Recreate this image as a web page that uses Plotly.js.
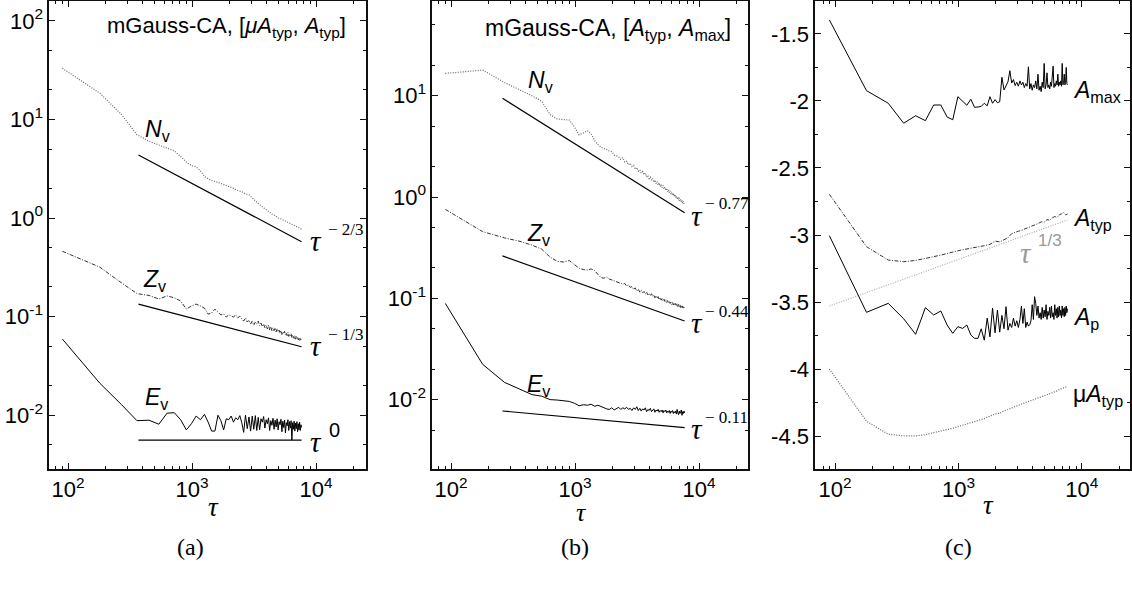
<!DOCTYPE html>
<html>
<head>
<meta charset="utf-8">
<script src="https://cdn.plot.ly/plotly-3.0.1.min.js"></script>
<style>html,body{margin:0;padding:0;background:#fff;}#chart{width:1132px;height:592px;}</style>
</head>
<body>
<div id="chart"></div>
<script>
// ---------- data ----------
const tau = [90,180,270,360,450,540,630,720,810,900,990,1080,1170,1260,1350,1440,1530,1620,1710,1800,1890,1980,2070,2160,2250,2340,2430,2520,2610,2700,2790,2880,2970,3060,3150,3240,3330,3420,3510,3600,3690,3780,3870,3960,4050,4140,4230,4320,4410,4500,4590,4680,4770,4860,4950,5040,5130,5220,5310,5400,5490,5580,5670,5760,5850,5940,6030,6120,6210,6300,6390,6480,6570,6660,6750,6840,6930,7020,7110,7200,7290,7380,7470,7560,7650];
const tauS = [90,180,270,360,450,540,630,720,810,900,990,1080,1170,1260,1350,1440,1620,1800,1980,2160,2340,2520,2700,2880,3060,3240,3420,3600,3870,4140,4410,4680,4950,5220,5490,5760,6030,6300,6570,6840,7110,7380,7650];

// panel (a): mGauss-CA, [muA_typ, A_typ]
const a_Nv = [33,18.5,11.2,7.0,6.0,5.5,5.2,4.8,4.2,3.7,3.4,3.3,3.0,2.65,2.5,2.4,2.3,2.2,2.1,2.0,1.9,1.85,1.76,1.72,1.6,1.48,1.4,1.33,1.24,1.16,1.1,1.06,1.0,0.98,0.95,0.93,0.9,0.88,0.86,0.84,0.81,0.79,0.77];
const a_Zv = [0.46,0.318,0.22,0.171,0.164,0.151,0.162,0.155,0.144,0.119,0.128,0.134,0.128,0.122,0.106,0.109,0.119,0.111,0.104,0.106,0.099,0.104,0.101,0.099,0.104,0.097,0.101,0.095,0.090,0.097,0.088,0.092,0.084,0.090,0.082,0.088,0.084,0.090,0.081,0.086,0.079,0.084,0.077,0.082,0.075,0.082,0.073,0.079,0.072,0.077,0.072,0.077,0.070,0.075,0.070,0.073,0.068,0.072,0.066,0.070,0.067,0.071,0.065,0.068,0.064,0.069,0.063,0.066,0.064,0.067,0.061,0.065,0.062,0.060,0.064,0.059,0.063,0.060,0.062,0.058,0.061,0.057,0.060,0.058,0.059];
const a_Ev = [0.0593,0.0212,0.0128,0.0088,0.0089,0.0081,0.0105,0.0106,0.0090,0.0071,0.0082,0.0098,0.0090,0.0102,0.0085,0.0069,0.0069,0.0100,0.0088,0.0071,0.0092,
  0.0090,0.0098,0.0085,0.0094,0.0090,0.0099,0.0084,0.0067,0.0100,0.0073,
  0.0096,0.0069,0.0098,0.0072,0.0099,0.0070,0.0095,0.0071,0.0092,0.0085,
  0.0097,0.0074,0.0090,0.0082,0.0094,0.0070,0.0088,0.0079,0.0093,0.0072,
  0.0089,0.0076,0.0092,0.0071,0.0086,0.0080,0.0091,0.0068,0.0087,0.0075,
  0.0089,0.0066,0.0084,0.0078,0.0090,0.0070,0.0086,0.0074,0.0088,0.0056,
  0.0084,0.0072,0.0087,0.0069,0.0083,0.0073,0.0086,0.0068,0.0082,0.0071,
  0.0085,0.0070,0.0080,0.0075];
const a_refTau = [370,7650];
const a_refN = [4.35,0.575];
const a_refZ = [0.134,0.0495];
const a_refE = [0.0056,0.0056];

// panel (b): mGauss-CA, [A_typ, A_max]
const b_Nv = [16.6,17.9,13.5,11.4,10.0,8.8,6.5,5.9,5.8,5.75,4.9,4.1,4.3,4.5,4.2,3.6,3.3,3.1,3.0,2.95,2.85,2.8,2.6,2.55,2.5,2.35,2.45,2.2,2.25,2.08,2.15,2.0,2.05,1.88,1.95,1.8,1.86,1.72,1.78,1.66,1.72,1.58,1.64,1.52,1.57,1.46,1.52,1.40,1.47,1.36,1.42,1.31,1.38,1.27,1.33,1.24,1.30,1.20,1.25,1.16,1.22,1.13,1.18,1.10,1.15,1.07,1.12,1.04,1.09,1.01,1.06,0.99,1.03,0.96,1.00,0.93,0.98,0.91,0.95,0.89,0.93,0.87,0.91,0.86,0.88];
const b_Zv = [0.755,0.455,0.395,0.365,0.335,0.305,0.255,0.232,0.228,0.236,0.215,0.198,0.192,0.190,0.195,0.188,0.172,0.160,0.158,0.162,0.155,0.152,0.148,0.146,0.144,0.141,0.138,0.140,0.132,0.136,0.128,0.131,0.122,0.127,0.118,0.123,0.115,0.120,0.113,0.117,0.110,0.115,0.108,0.112,0.106,0.111,0.104,0.108,0.101,0.106,0.100,0.104,0.097,0.102,0.096,0.100,0.094,0.098,0.093,0.097,0.091,0.095,0.090,0.094,0.089,0.092,0.087,0.091,0.086,0.090,0.085,0.089,0.084,0.088,0.083,0.087,0.082,0.086,0.081,0.085,0.080,0.084,0.079,0.083,0.081];
const b_Ev = [0.089,0.0223,0.0148,0.0126,0.0112,0.0108,0.0100,0.0099,0.0097,0.0096,0.0092,0.0087,0.0089,0.0088,0.0090,0.0086,0.0088,0.0085,0.0083,0.0081,0.0080,0.0083,0.0079,0.0082,0.0084,0.0080,0.0083,0.0081,0.0084,0.0080,0.0082,0.0078,0.0083,0.0080,0.0085,0.0078,0.0082,0.0077,0.0081,0.0079,0.0083,0.0076,0.0080,0.0078,0.0082,0.0076,0.0079,0.0081,0.0075,0.0079,0.0077,0.0080,0.0075,0.0078,0.0076,0.0079,0.0074,0.0078,0.0076,0.0079,0.0074,0.0077,0.0075,0.0078,0.0073,0.0077,0.0075,0.0078,0.0073,0.0076,0.0074,0.0077,0.0072,0.0080,0.0074,0.0071,0.0077,0.0073,0.0076,0.0079,0.0070,0.0076,0.0073,0.0077,0.0074];
const b_refTau = [260,7650];
const b_refN = [9.42,0.70];
const b_refZ = [0.262,0.0597];
const b_refE = [0.00772,0.00528];

// panel (c): log amplitudes
const c_Amax = [-1.395,-1.923,-2.017,-2.166,-2.11,-2.147,-2.03,-2.03,-2.12,-2.14,-1.968,-2.00,-2.032,-1.987,-2.047,-2.045,-2.04,-2.017,-2.036,-1.968,-2.017,-1.99,-2.013,-2.006,-1.823,-1.918,-1.88,-1.857,-1.774,-1.866,-1.84,-1.885,
  -1.86,-1.89,-1.85,-1.88,-1.86,-1.90,-1.87,-1.89,-1.745,-1.91,-1.87,-1.92,-1.88,-1.90,-1.85,-1.91,-1.80,-1.92,-1.89,-1.93,-1.86,-1.90,-1.72,-1.91,-1.88,-1.79,-1.90,-1.88,-1.91,-1.86,-1.89,-1.82,-1.74,-1.90,-1.87,-1.89,-1.85,-1.88,-1.80,-1.89,-1.86,-1.88,-1.85,-1.89,-1.72,-1.88,-1.87,-1.80,-1.88,-1.86,-1.75,-1.87,-1.88];
const c_Atyp = [-2.696,-3.087,-3.187,-3.199,-3.19,-3.176,-3.165,-3.15,-3.138,-3.13,-3.118,-3.11,-3.105,-3.10,-3.097,-3.092,-3.08,-3.07,-3.045,-3.052,-3.035,-3.02,-2.99,-2.978,-2.972,-2.965,-2.957,-2.95,-2.938,-2.925,-2.915,-2.902,-2.905,-2.885,-2.89,-2.872,-2.862,-2.868,-2.85,-2.842,-2.832,-2.85,-2.843];
const c_Ap = [-3.005,-3.577,-3.51,-3.625,-3.741,-3.542,-3.597,-3.567,-3.672,-3.734,-3.684,-3.697,-3.672,-3.746,-3.771,-3.771,
  -3.70,-3.785,-3.62,-3.76,-3.545,-3.73,-3.56,-3.725,-3.60,-3.70,
  -3.535,-3.71,-3.66,-3.69,-3.62,-3.68,-3.64,-3.69,-3.63,-3.53,
  -3.66,-3.55,-3.69,-3.65,-3.68,-3.67,-3.64,-3.52,-3.63,-3.46,
  -3.51,-3.60,-3.53,-3.62,-3.58,-3.63,-3.54,-3.62,-3.56,-3.61,
  -3.52,-3.63,-3.57,-3.60,-3.54,-3.62,-3.53,-3.61,-3.58,-3.63,
  -3.52,-3.60,-3.55,-3.62,-3.54,-3.61,-3.53,-3.60,-3.56,-3.62,
  -3.53,-3.60,-3.55,-3.61,-3.54,-3.60,-3.53,-3.58,-3.55];
const c_muAtyp = [-4.0,-4.39,-4.487,-4.498,-4.499,-4.49,-4.475,-4.463,-4.455,-4.442,-4.43,-4.42,-4.41,-4.40,-4.39,-4.383,-4.37,-4.352,-4.335,-4.33,-4.312,-4.302,-4.29,-4.28,-4.27,-4.262,-4.255,-4.245,-4.236,-4.226,-4.215,-4.208,-4.198,-4.19,-4.185,-4.178,-4.17,-4.163,-4.152,-4.148,-4.14,-4.135,-4.138];
const c_refTau = [90,7650];
const c_ref = [-3.53,-2.888];

// ---------- drawing ----------
const W = 1132, H = 592;
const SANS = 'Liberation Sans, Arial, Helvetica, sans-serif';
const SERIF = 'Liberation Serif, Times New Roman, serif';
const X = p => p / W, Y = p => 1 - p / H;

const solid = {color:'#000', width:1};
const dotted = {color:'#666', width:1.2, dash:'1px,1.5px'};
const dashdot = {color:'#333', width:1, dash:'4px,1.5px,1px,1.5px'};
const refL = {color:'#000', width:1.2};

function tr(x, y, xa, ya, line) {
  return {x:x, y:y, xaxis:xa, yaxis:ya, type:'scatter', mode:'lines', line:line, hoverinfo:'skip', showlegend:false};
}

const traces = [
  tr(tauS, a_Nv, 'x', 'y', dotted),
  tr(tau, a_Zv, 'x', 'y', dashdot),
  tr(tau, a_Ev, 'x', 'y', solid),
  tr(a_refTau, a_refN, 'x', 'y', refL),
  tr(a_refTau, a_refZ, 'x', 'y', refL),
  tr(a_refTau, a_refE, 'x', 'y', refL),
  tr(tau, b_Nv, 'x2', 'y2', dotted),
  tr(tau, b_Zv, 'x2', 'y2', dashdot),
  tr(tau, b_Ev, 'x2', 'y2', solid),
  tr(b_refTau, b_refN, 'x2', 'y2', refL),
  tr(b_refTau, b_refZ, 'x2', 'y2', refL),
  tr(b_refTau, b_refE, 'x2', 'y2', refL),
  tr(c_refTau, c_ref, 'x3', 'y3', {color:'#aaa', width:1.2, dash:'1px,1.5px'}),
  tr(tau, c_Amax, 'x3', 'y3', solid),
  tr(tauS, c_Atyp, 'x3', 'y3', dashdot),
  tr(tau, c_Ap, 'x3', 'y3', solid),
  tr(tauS, c_muAtyp, 'x3', 'y3', dotted)
];

const minorX = [], minorY = [];
[10,100,1000,10000].forEach(d => { for (let m = 2; m <= 9; m++) minorX.push(m*d); });
[0.001,0.01,0.1,1,10,100].forEach(d => { minorY.push(2*d, 5*d); });

const common = {
  showline:true, linecolor:'#111', linewidth:1.6, mirror:'ticks',
  ticks:'inside', ticklen:6, tickwidth:1, tickcolor:'#111',
  showgrid:false, zeroline:false, fixedrange:true,
  tickfont:{family:SANS, size:22, color:'#000'}
};
function xLog(dom, rng, anchor) {
  return Object.assign({}, common, {
    type:'log', domain:dom, range:rng, anchor:anchor,
    tickmode:'array', tickvals:[100,1000,10000],
    ticktext:['10<sup>2</sup>','10<sup>3</sup>','10<sup>4</sup>'],
    minor:{tickmode:'array', tickvals:minorX, ticks:'inside', ticklen:3, tickcolor:'#111', showgrid:false}
  });
}
function yLog(rng, anchor, vals) {
  return Object.assign({}, common, {
    type:'log', domain:[1-469/H, 1-1/H], range:rng, anchor:anchor,
    tickmode:'array', tickvals:vals.map(e => Math.pow(10,e)),
    ticktext:vals.map(e => '10<sup>' + e + '</sup>'),
    minor:{tickmode:'array', tickvals:minorY, ticks:'inside', ticklen:3, tickcolor:'#111', showgrid:false}
  });
}

const layout = {
  width:W, height:H, margin:{l:0,r:0,t:0,b:0},
  paper_bgcolor:'#fff', plot_bgcolor:'#fff', showlegend:false,
  xaxis: xLog([49/W, 366/W], [1.8468, 4.4032], 'y'),
  yaxis: yLog([-2.5456, 2.2008], 'x', [-2,-1,0,1,2]),
  xaxis2: xLog([432/W, 748/W], [1.8468, 4.395], 'y2'),
  yaxis2: yLog([-2.685, 1.935], 'x2', [-2,-1,0,1]),
  xaxis3: xLog([815/W, 1130/W], [1.838, 4.39], 'y3'),
  yaxis3: Object.assign({}, common, {
    domain:[1-469/H, 1-1/H], range:[-4.746, -1.254], anchor:'x3',
    tickmode:'array', tickvals:[-4.5,-4,-3.5,-3,-2.5,-2,-1.5],
    ticktext:['-4.5','-4','-3.5','-3','-2.5','-2','-1.5'],
    minor:{tickmode:'linear', tick0:0, dtick:0.25, ticks:'inside', ticklen:3, tickcolor:'#111', showgrid:false}
  }),
  annotations:[]
};

function ann(text, x, y, size, family, xanchor, color) {
  layout.annotations.push({text:text, x:X(x), y:Y(y), xref:'paper', yref:'paper',
    showarrow:false, xanchor:xanchor || 'left', yanchor:'middle',
    font:{family:family || SANS, size:size, color:color || '#000'}});
}

// titles
ann('mGauss-CA, [<i>μA</i><sub>typ</sub>, <i>A</i><sub>typ</sub>]', 348, 27, 22, SANS, 'right');
ann('mGauss-CA, [<i>A</i><sub>typ</sub>, <i>A</i><sub>max</sub>]', 733, 29, 23, SANS, 'right');

// panel a labels
ann('<i>N</i><sub>v</sub>', 143, 130, 23);
ann('<i>Z</i><sub>v</sub>', 141, 280, 23);
ann('<i>E</i><sub>v</sub>', 143, 398, 23);
ann('<i>τ</i>', 316, 241, 29, SERIF, 'center');
ann('− 2/3', 326, 229, 17, SERIF);
ann('<i>τ</i>', 316, 346, 29, SERIF, 'center');
ann('− 1/3', 326, 334, 17, SERIF);
ann('<i>τ</i>', 316, 442, 29, SERIF, 'center');
ann('0', 327, 430, 20, SANS);

// panel b labels
ann('<i>N</i><sub>v</sub>', 526, 82, 23);
ann('<i>Z</i><sub>v</sub>', 525, 234, 23);
ann('<i>E</i><sub>v</sub>', 525, 385, 23);
ann('<i>τ</i>', 697, 216, 29, SERIF, 'center');
ann('− 0.77', 703, 204, 17, SERIF);
ann('<i>τ</i>', 697, 323, 29, SERIF, 'center');
ann('− 0.44', 703, 311, 17, SERIF);
ann('<i>τ</i>', 697, 429, 29, SERIF, 'center');
ann('− 0.11', 703, 417, 17, SERIF);

// panel c labels
ann('<i>A</i><sub>max</sub>', 1071, 91, 23);
ann('<i>A</i><sub>typ</sub>', 1071, 219, 23);
ann('<i>τ</i>', 1026, 253, 29, SERIF, 'center', '#999');
ann('1/3', 1036, 241, 17, SANS, 'left', '#999');
ann('<i>A</i><sub>p</sub>', 1071, 318, 23);
ann('μ<i>A</i><sub>typ</sub>', 1071, 395, 23);

// axis titles
ann('<i>τ</i>', 213, 507, 27, SERIF, 'center');
ann('<i>τ</i>', 581, 512, 26, SERIF, 'center');
ann('<i>τ</i>', 988, 505, 27, SERIF, 'center');

// sub-figure captions
ann('(a)', 190, 547, 24, SERIF, 'center');
ann('(b)', 575, 547, 24, SERIF, 'center');
ann('(c)', 958, 547, 24, SERIF, 'center');

Plotly.newPlot('chart', traces, layout, {staticPlot:true, displayModeBar:false});
</script>
</body>
</html>
